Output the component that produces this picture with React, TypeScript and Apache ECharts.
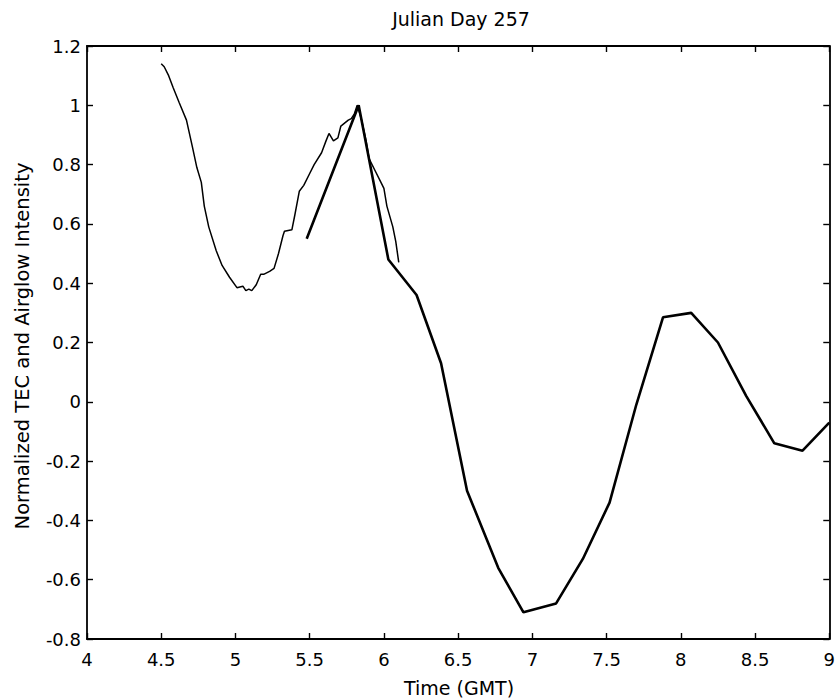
import React, { useEffect, useRef } from "react";
import * as echarts from "echarts";

const titleText = "Julian Day 257";
const xName = "Time (GMT)";
const yName = "Normalized TEC and Airglow Intensity";

// Airglow intensity (thick line)
const airglowTime = [5.48, 5.83, 6.03, 6.22, 6.385, 6.56, 6.77, 6.94, 7.16, 7.34, 7.52, 7.70, 7.88, 8.07, 8.25, 8.44, 8.63, 8.82, 9.0];
const airglowValue = [0.55, 1.0, 0.48, 0.36, 0.13, -0.30, -0.56, -0.71, -0.68, -0.53, -0.34, -0.01, 0.285, 0.30, 0.20, 0.02, -0.14, -0.165, -0.07];

// TEC (thin, noisy line)
const tecTime = [4.50, 4.52, 4.55, 4.58, 4.62, 4.67, 4.71, 4.74, 4.77, 4.79, 4.82, 4.87, 4.91, 4.96, 5.01, 5.05, 5.07, 5.09, 5.11, 5.14, 5.17, 5.19, 5.23, 5.26, 5.29, 5.32, 5.33, 5.38, 5.40, 5.43, 5.46, 5.50, 5.53, 5.58, 5.61, 5.63, 5.66, 5.69, 5.71, 5.76, 5.78, 5.80, 5.82, 5.85, 5.88, 5.90, 5.94, 5.98, 6.00, 6.02, 6.06, 6.08, 6.10];
const tecValue = [1.14, 1.13, 1.10, 1.06, 1.01, 0.95, 0.86, 0.79, 0.74, 0.66, 0.59, 0.51, 0.46, 0.42, 0.385, 0.39, 0.375, 0.38, 0.375, 0.395, 0.43, 0.43, 0.44, 0.45, 0.50, 0.56, 0.575, 0.58, 0.63, 0.71, 0.73, 0.77, 0.80, 0.84, 0.88, 0.905, 0.88, 0.89, 0.93, 0.95, 0.955, 0.97, 1.0, 0.95, 0.88, 0.82, 0.78, 0.74, 0.72, 0.66, 0.59, 0.54, 0.47];

const xMin = 4, xMax = 9, xStep = 0.5;
const yMin = -0.8, yMax = 1.2, yStep = 0.2;

const FONT = "DejaVu Sans";

export default function App() {
  const ref = useRef<HTMLDivElement>(null);
  useEffect(() => {
    if (!ref.current) return;
    const chart = echarts.init(ref.current, null, { renderer: "svg" });
    const axisLine = { show: true, onZero: false, lineStyle: { color: "#000", width: 1.8 } };
    const tick = { show: true, inside: true, length: 6, lineStyle: { color: "#000", width: 1.4 } };
    const lbl = { color: "#000", fontFamily: FONT, fontSize: 18 };
    chart.setOption({
      animation: false,
      backgroundColor: "#fff",
      grid: { left: 87, right: 3, top: 46, bottom: 59, containLabel: false },
      xAxis: [
        {
          type: "value", min: xMin, max: xMax, interval: xStep, position: "bottom",
          axisLine, axisTick: tick, splitLine: { show: false },
          axisLabel: { ...lbl, margin: 11, showMaxLabel: true },
        },
        {
          type: "value", min: xMin, max: xMax, interval: xStep, position: "top",
          axisLine, axisTick: tick, splitLine: { show: false }, axisLabel: { show: false },
        },
      ],
      yAxis: [
        {
          type: "value", min: yMin, max: yMax, interval: yStep, position: "left",
          axisLine, axisTick: tick, splitLine: { show: false },
          axisLabel: { ...lbl, margin: 6 },
        },
        {
          type: "value", min: yMin, max: yMax, interval: yStep, position: "right",
          axisLine, axisTick: tick, splitLine: { show: false }, axisLabel: { show: false },
        },
      ],
      graphic: [
        {
          type: "text", x: 461, y: 19,
          style: { text: titleText, fill: "#000", font: `19px "${FONT}"`, align: "center", verticalAlign: "middle" },
        },
        {
          type: "text", x: 459, y: 688,
          style: { text: xName, fill: "#000", font: `19px "${FONT}"`, align: "center", verticalAlign: "middle" },
        },
        {
          type: "text", x: 22, y: 346, rotation: Math.PI / 2,
          style: { text: yName, fill: "#000", font: `19.5px "${FONT}"`, align: "center", verticalAlign: "middle" },
        },
      ],
      series: [
        {
          name: "Airglow", type: "line", xAxisIndex: 0, yAxisIndex: 0,
          data: airglowTime.map((t, i) => [t, airglowValue[i]]),
          showSymbol: false, symbol: "none",
          lineStyle: { color: "#000", width: 2.6 },
        },
        {
          name: "TEC", type: "line", xAxisIndex: 0, yAxisIndex: 0,
          data: tecTime.map((t, i) => [t, tecValue[i]]),
          showSymbol: false, symbol: "none",
          lineStyle: { color: "#000", width: 1.5 },
        },
      ],
    });
    return () => chart.dispose();
  }, []);
  return (
    <div
      ref={ref}
      style={{ position: "fixed", left: 0, top: 0, width: 838, height: 698, background: "#fff" }}
    />
  );
}
